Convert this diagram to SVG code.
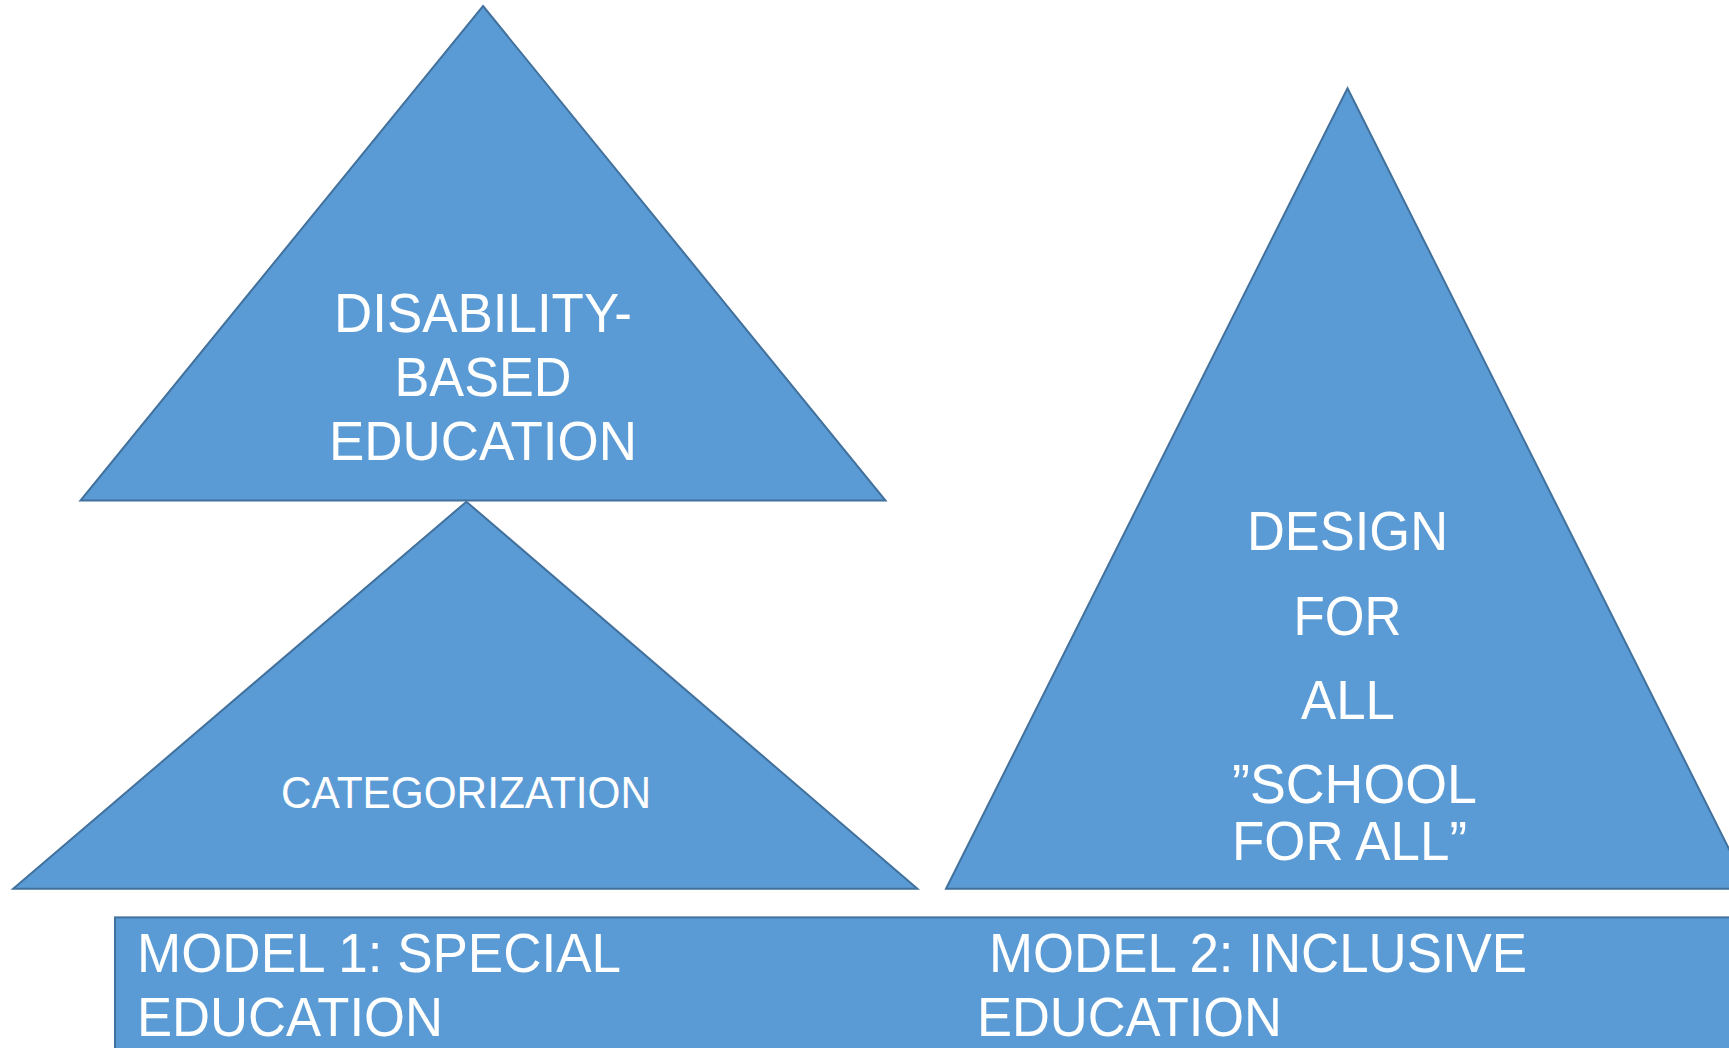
<svg xmlns="http://www.w3.org/2000/svg" width="1729" height="1048" viewBox="0 0 1729 1048">
  <style>
    .shape { fill: #5B9BD5; stroke: #41719C; stroke-width: 2; stroke-linejoin: miter; }
    .label { fill: #FFFFFF; font-family: "Liberation Sans", Arial, sans-serif; font-size: 55px; }
    .small { font-size: 44px; }
  </style>
  <rect width="1729" height="1048" fill="#FFFFFF"/>

  <!-- Model 1: stacked triangles -->
  <g id="disability-based">
    <polygon class="shape" points="483,6 885.5,500.6 80.5,500.6"/>
    <text class="label" x="483" y="332" text-anchor="middle" textLength="298" lengthAdjust="spacingAndGlyphs">DISABILITY-</text>
    <text class="label" x="483" y="396" text-anchor="middle" textLength="177" lengthAdjust="spacingAndGlyphs">BASED</text>
    <text class="label" x="483" y="460" text-anchor="middle" textLength="308" lengthAdjust="spacingAndGlyphs">EDUCATION</text>
  </g>

  <g id="categorization">
    <polygon class="shape" points="466.4,501.7 917.4,888.8 13.2,888.8"/>
    <text class="label small" x="466" y="808" text-anchor="middle" textLength="370" lengthAdjust="spacingAndGlyphs">CATEGORIZATION</text>
  </g>

  <!-- Model 2: single tall triangle -->
  <g id="design-for-all">
    <polygon class="shape" points="1347.5,88.2 1749,888.8 946,888.8"/>
    <text class="label" x="1347.5" y="550" text-anchor="middle" textLength="201" lengthAdjust="spacingAndGlyphs">DESIGN</text>
    <text class="label" x="1347.5" y="635" text-anchor="middle" textLength="108" lengthAdjust="spacingAndGlyphs">FOR</text>
    <text class="label" x="1348" y="719" text-anchor="middle" textLength="94" lengthAdjust="spacingAndGlyphs">ALL</text>
    <text class="label" x="1232" y="803" textLength="245" lengthAdjust="spacingAndGlyphs">”SCHOOL</text>
    <text class="label" x="1232" y="860" textLength="235" lengthAdjust="spacingAndGlyphs">FOR ALL”</text>
  </g>

  <!-- Base bar carrying both model titles -->
  <g id="models-bar">
    <rect class="shape" x="115" y="917.4" width="1700" height="200"/>
    <text class="label" x="137" y="971.6" textLength="484" lengthAdjust="spacingAndGlyphs">MODEL 1: SPECIAL</text>
    <text class="label" x="137" y="1035.5" textLength="306" lengthAdjust="spacingAndGlyphs">EDUCATION</text>
    <text class="label" x="989" y="971.6" textLength="538" lengthAdjust="spacingAndGlyphs">MODEL 2: INCLUSIVE</text>
    <text class="label" x="977" y="1035.5" textLength="305" lengthAdjust="spacingAndGlyphs">EDUCATION</text>
  </g>

  <g id="connectors"/>
</svg>
